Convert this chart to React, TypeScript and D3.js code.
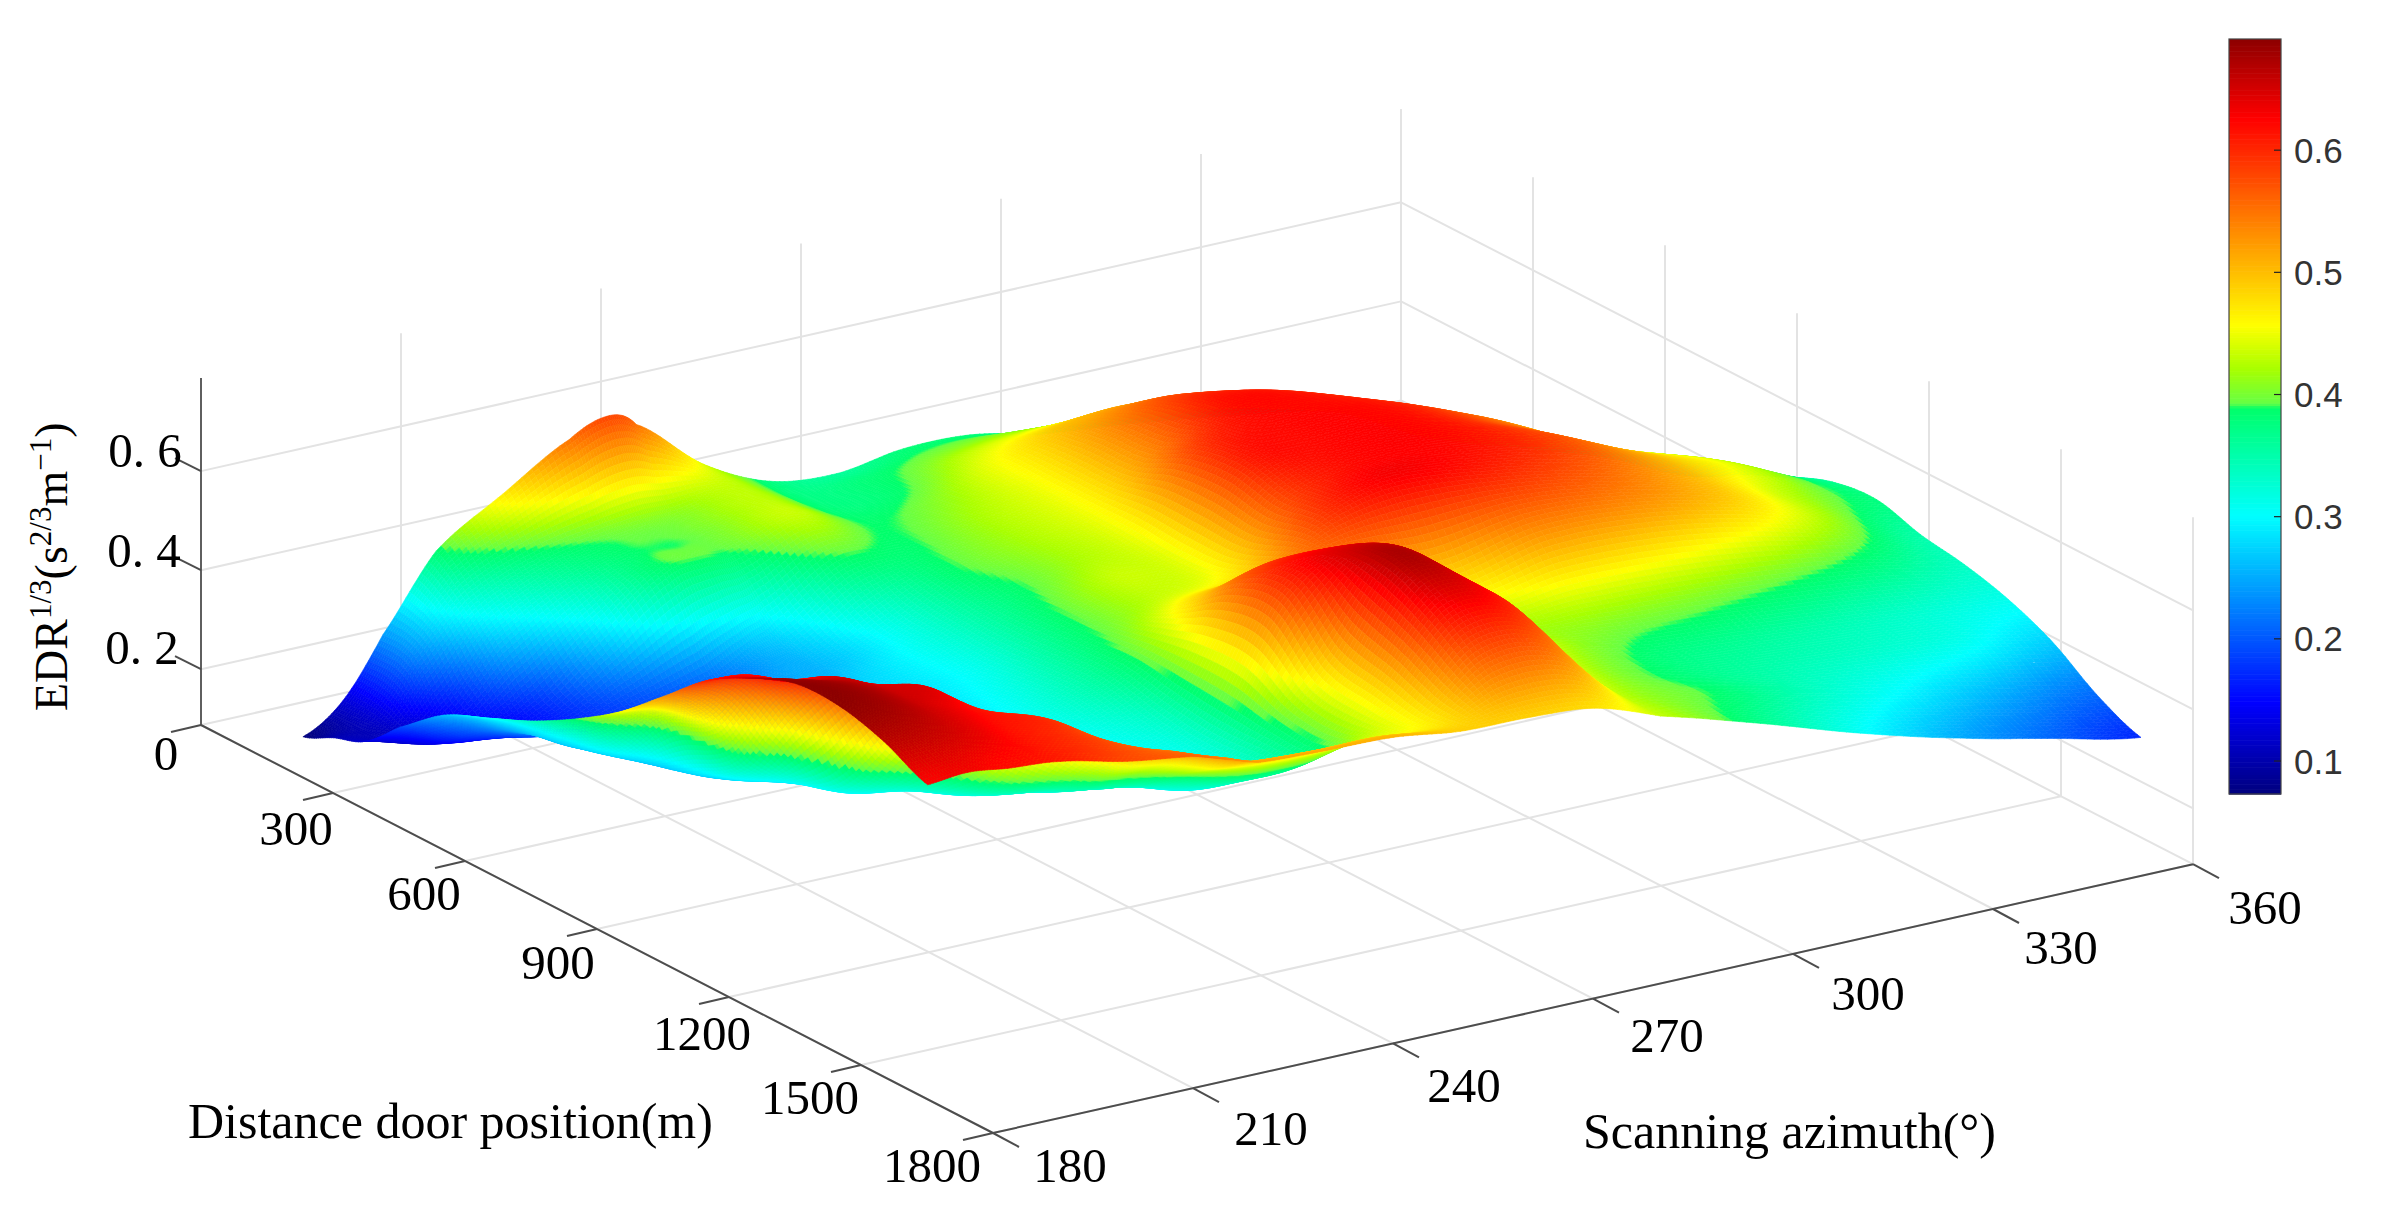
// App.tsx - EDR surface over scanning azimuth and distance door position
import React, { useMemo } from 'react';
import * as d3 from 'd3';

const width = 2382;
const height = 1212;

// value grid, one row per distance node
const azimuthNodes = [190, 196, 202, 210, 220, 230, 236, 240, 250, 260, 270, 280, 290, 300, 315, 330, 345, 358, 372];
const distanceNodes = [80, 150, 220, 300, 400, 500, 600, 700, 800, 900, 1000, 1100, 1200, 1300, 1400, 1500];
const edrRows = [
  [0.07, 0.125, 0.24, 0.385, 0.47, 0.55, 0.58, 0.55, 0.44, 0.375, 0.36, 0.38, 0.378, 0.35, 0.33, 0.3, 0.27, 0.2, 0.14],
  [0.1, 0.12, 0.23, 0.33, 0.385, 0.41, 0.42, 0.42, 0.43, 0.375, 0.38, 0.4, 0.41, 0.4, 0.37, 0.34, 0.29, 0.23, 0.16],
  [0.125, 0.11, 0.15, 0.26, 0.34, 0.385, 0.39, 0.4, 0.43, 0.38, 0.385, 0.43, 0.45, 0.45, 0.42, 0.38, 0.32, 0.25, 0.18],
  [0.19, 0.14, 0.14, 0.17, 0.27, 0.37, 0.385, 0.385, 0.43, 0.388, 0.405, 0.455, 0.5, 0.51, 0.46, 0.41, 0.35, 0.28, 0.2],
  [0.26, 0.21, 0.18, 0.17, 0.19, 0.22, 0.26, 0.29, 0.375, 0.385, 0.42, 0.455, 0.53, 0.575, 0.51, 0.44, 0.37, 0.31, 0.22],
  [0.3, 0.25, 0.23, 0.21, 0.21, 0.23, 0.25, 0.26, 0.32, 0.385, 0.42, 0.456, 0.54, 0.615, 0.575, 0.45, 0.38, 0.32, 0.24],
  [0.34, 0.27, 0.25, 0.235, 0.24, 0.25, 0.265, 0.275, 0.315, 0.372, 0.415, 0.456, 0.585, 0.62, 0.61, 0.535, 0.44, 0.36, 0.29],
  [0.39, 0.31, 0.26, 0.25, 0.25, 0.26, 0.27, 0.28, 0.31, 0.375, 0.43, 0.45, 0.6, 0.62, 0.62, 0.56, 0.47, 0.41, 0.33],
  [0.45, 0.42, 0.29, 0.26, 0.26, 0.265, 0.275, 0.28, 0.32, 0.38, 0.43, 0.46, 0.58, 0.62, 0.62, 0.58, 0.5, 0.44, 0.365],
  [0.527, 0.47, 0.35, 0.29, 0.27, 0.27, 0.28, 0.285, 0.325, 0.385, 0.485, 0.51, 0.59, 0.62, 0.6, 0.56, 0.5, 0.43, 0.375],
  [0.605, 0.59, 0.5, 0.33, 0.295, 0.28, 0.285, 0.29, 0.31, 0.37, 0.56, 0.59, 0.54, 0.49, 0.53, 0.52, 0.48, 0.42, 0.35],
  [0.655, 0.63, 0.61, 0.45, 0.335, 0.305, 0.3, 0.3, 0.3, 0.36, 0.58, 0.65, 0.6, 0.44, 0.43, 0.42, 0.4, 0.375, 0.335],
  [0.69, 0.675, 0.65, 0.61, 0.42, 0.36, 0.34, 0.33, 0.3, 0.36, 0.49, 0.67, 0.6, 0.45, 0.39, 0.37, 0.35, 0.33, 0.31],
  [0.69, 0.68, 0.655, 0.62, 0.57, 0.45, 0.42, 0.4, 0.36, 0.37, 0.47, 0.63, 0.6, 0.44, 0.38, 0.35, 0.33, 0.31, 0.27],
  [0.665, 0.66, 0.645, 0.615, 0.585, 0.525, 0.49, 0.46, 0.445, 0.45, 0.46, 0.56, 0.55, 0.43, 0.385, 0.335, 0.29, 0.25, 0.21],
  [0.623, 0.63, 0.62, 0.61, 0.58, 0.56, 0.535, 0.518, 0.512, 0.508, 0.49, 0.487, 0.476, 0.43, 0.37, 0.305, 0.25, 0.21, 0.17],
];

const azimuthTicks = [180, 210, 240, 270, 300, 330, 360];
const distanceTicks = [0, 300, 600, 900, 1200, 1500, 1800];
const edrTicks = [0.2, 0.4, 0.6];
const colorbarTicks = [0.1, 0.2, 0.3, 0.4, 0.5, 0.6];

// colormap stops as seen on the colour bar
const colorStops = [0.073, 0.147, 0.3, 0.388, 0.392, 0.42, 0.456, 0.625, 0.691];
const colorValues = ['#00007f', '#0000ff', '#00ffff', '#00ff6a', '#66ff44', '#a8ff00', '#ffff00', '#ff0000', '#8b0000'];

// axis box in screen pixels
const origin = { x: 201, y: 725 }; // azimuth 180, distance 0, lowest z
const azimuthSpan = { x: 1200, y: -268.8 };
const distanceSpan = { x: 792, y: 408 };
const zSpan = -347;
const zRange = [0.0874, 0.788];

const azimuthScale = d3.scaleLinear().domain([180, 360]).range([0, 1]);
const distanceScale = d3.scaleLinear().domain([0, 1800]).range([0, 1]);
const zScale = d3.scaleLinear().domain(zRange).range([0, 1]);
const colorScale = d3.scaleLinear<string>().domain(colorStops).range(colorValues).clamp(true);

const project = (az: number, dist: number, z: number) => {
  const a = azimuthScale(az);
  const b = distanceScale(dist);
  const c = zScale(z);
  return {
    x: origin.x + a * azimuthSpan.x + b * distanceSpan.x,
    y: origin.y + a * azimuthSpan.y + b * distanceSpan.y + c * zSpan,
  };
};

// label positions
const distanceLabelPos = [[166, 753], [296, 828], [424, 893], [558, 962], [702, 1033], [810, 1097], [932, 1165]];
const azimuthLabelPos = [[1070, 1165], [1271, 1128], [1464, 1085], [1667, 1035], [1868, 993], [2061, 947], [2265, 907]];
const edrLabelPos = [[142, 647], [144, 550], [145, 450]];

const serif = '"Liberation Serif", "Times New Roman", serif';
const sans = '"Liberation Sans", Arial, sans-serif';

const catmull = (p0: number, p1: number, p2: number, p3: number, t: number) =>
  0.5 * (2 * p1 + (p2 - p0) * t + (2 * p0 - 5 * p1 + 4 * p2 - p3) * t * t + (3 * p1 - p0 - 3 * p2 + p3) * t * t * t);

const refine = (values: number[], steps: number) => {
  const out: number[] = [];
  for (let i = 0; i < values.length - 1; i++) {
    const p0 = values[Math.max(i - 1, 0)];
    const p3 = values[Math.min(i + 2, values.length - 1)];
    for (let s = 0; s < steps; s++) out.push(catmull(p0, values[i], values[i + 1], p3, s / steps));
  }
  out.push(values[values.length - 1]);
  return out;
};

// interpolated shading of the surface, back cells first
const STEPS = 14;
const buildCells = () => {
  const fineRows = edrRows.map((row) => refine(row, STEPS));
  const columns = d3.range(fineRows[0].length).map((i) => refine(fineRows.map((r) => r[i]), STEPS));
  const azAt = d3.scaleLinear().domain(d3.range(azimuthNodes.length).map((i) => i * STEPS)).range(azimuthNodes);
  const distAt = d3.scaleLinear().domain(d3.range(distanceNodes.length).map((i) => i * STEPS)).range(distanceNodes);
  const line = d3.line<{ x: number; y: number }>().x((p) => p.x).y((p) => p.y).digits(1);
  const cells: { d: string; fill: string }[] = [];
  for (let i = columns.length - 2; i >= 0; i--) {
    for (let j = 0; j < columns[0].length - 1; j++) {
      const zs = [columns[i][j], columns[i + 1][j], columns[i + 1][j + 1], columns[i][j + 1]];
      const pts = [
        project(azAt(i), distAt(j), zs[0]),
        project(azAt(i + 1), distAt(j), zs[1]),
        project(azAt(i + 1), distAt(j + 1), zs[2]),
        project(azAt(i), distAt(j + 1), zs[3]),
      ];
      cells.push({ d: line(pts) + 'Z', fill: colorScale(d3.mean(zs) as number) });
    }
  }
  return cells;
};

const Grid = () => {
  const stroke = '#e3e3e3';
  const seg = (p: { x: number; y: number }, q: { x: number; y: number }, key: string) => (
    <line key={key} x1={p.x} y1={p.y} x2={q.x} y2={q.y} stroke={stroke} strokeWidth={2} />
  );
  return (
    <g>
      {azimuthTicks.map((t) => seg(project(t, 0, zRange[0]), project(t, 1800, zRange[0]), `fa${t}`))}
      {distanceTicks.map((t) => seg(project(180, t, zRange[0]), project(360, t, zRange[0]), `fd${t}`))}
      {azimuthTicks.map((t) => seg(project(t, 0, zRange[0]), project(t, 0, zRange[1]), `wa${t}`))}
      {distanceTicks.map((t) => seg(project(360, t, zRange[0]), project(360, t, zRange[1]), `wd${t}`))}
      {edrTicks.map((t) => seg(project(180, 0, t), project(360, 0, t), `za${t}`))}
      {edrTicks.map((t) => seg(project(360, 0, t), project(360, 1800, t), `zd${t}`))}
    </g>
  );
};

const Axes = () => {
  const stroke = '#4d4d4d';
  const A = project(180, 0, zRange[0]);
  const B = project(180, 1800, zRange[0]);
  const C = project(360, 1800, zRange[0]);
  const T = project(180, 0, zRange[1]);
  return (
    <g stroke={stroke} strokeWidth={2}>
      <line x1={A.x} y1={A.y} x2={T.x} y2={T.y} strokeWidth={1.5} stroke="#333" />
      <line x1={A.x} y1={A.y} x2={B.x} y2={B.y} />
      <line x1={B.x} y1={B.y} x2={C.x} y2={C.y} />
      {distanceTicks.map((t) => {
        const p = project(180, t, zRange[0]);
        return <line key={t} x1={p.x} y1={p.y} x2={p.x - 30} y2={p.y + 7} />;
      })}
      {azimuthTicks.map((t) => {
        const p = project(t, 1800, zRange[0]);
        return <line key={t} x1={p.x} y1={p.y} x2={p.x + 26} y2={p.y + 14} />;
      })}
      {edrTicks.map((t) => {
        const p = project(180, 0, t);
        return <line key={t} x1={p.x} y1={p.y} x2={p.x - 26} y2={p.y - 13} />;
      })}
    </g>
  );
};

const Colorbar = () => {
  const x0 = 2229;
  const x1 = 2281;
  const y = d3.scaleLinear().domain([0.073, 0.691]).range([794, 39]);
  const bands = d3.range(0.073, 0.691, 0.002);
  return (
    <g>
      {bands.map((v) => (
        <rect key={v} x={x0} width={x1 - x0} y={y(v + 0.002)} height={y(v) - y(v + 0.002) + 0.6} fill={colorScale(v)} />
      ))}
      <rect x={x0} y={39} width={x1 - x0} height={755} fill="none" stroke="#444" strokeWidth={1.2} />
      {colorbarTicks.map((t) => (
        <g key={t}>
          <line x1={x1} x2={x1 - 7} y1={y(t)} y2={y(t)} stroke="#222" strokeWidth={1.2} />
          <text x={2294} y={y(t)} dy="0.36em" fontFamily={sans} fontSize={35} fill="#333">
            {d3.format('.1f')(t)}
          </text>
        </g>
      ))}
    </g>
  );
};

const App = () => {
  const cells = useMemo(buildCells, []);
  return (
    <svg width={width} height={height} style={{ position: 'absolute', left: 0, top: 0, background: '#fff' }}>
      <Grid />
      <g strokeWidth={0.6}>
        {cells.map((c, i) => (
          <path key={i} d={c.d} fill={c.fill} stroke={c.fill} />
        ))}
      </g>
      <Axes />
      <g fontFamily={serif} fontSize={49} fill="#000" textAnchor="middle">
        {distanceTicks.map((t, i) => (
          <text key={t} x={distanceLabelPos[i][0]} y={distanceLabelPos[i][1]} dy="0.34em">{t}</text>
        ))}
        {azimuthTicks.map((t, i) => (
          <text key={t} x={azimuthLabelPos[i][0]} y={azimuthLabelPos[i][1]} dy="0.34em">{t}</text>
        ))}
        {edrTicks.map((t, i) => (
          <text key={t} x={edrLabelPos[i][0]} y={edrLabelPos[i][1]} dy="0.34em">{`0. ${Math.round(t * 10)}`}</text>
        ))}
      </g>
      <g fontFamily={serif} fontSize={50} fill="#000">
        <text x={188} y={1138}>Distance door position(m)</text>
        <text x={1583} y={1148}>Scanning azimuth(°)</text>
      </g>
      <text transform="translate(67,711) rotate(-90)" fontFamily={serif} fontSize={46} fill="#000">
        EDR<tspan dy={-16} fontSize={31}>1/3</tspan>
        <tspan dy={16}>(s</tspan>
        <tspan dy={-16} fontSize={31}>2/3</tspan>
        <tspan dy={16}>m</tspan>
        <tspan dy={-16} fontSize={31}>−1</tspan>
        <tspan dy={16}>)</tspan>
      </text>
      <Colorbar />
    </svg>
  );
};

export default App;
